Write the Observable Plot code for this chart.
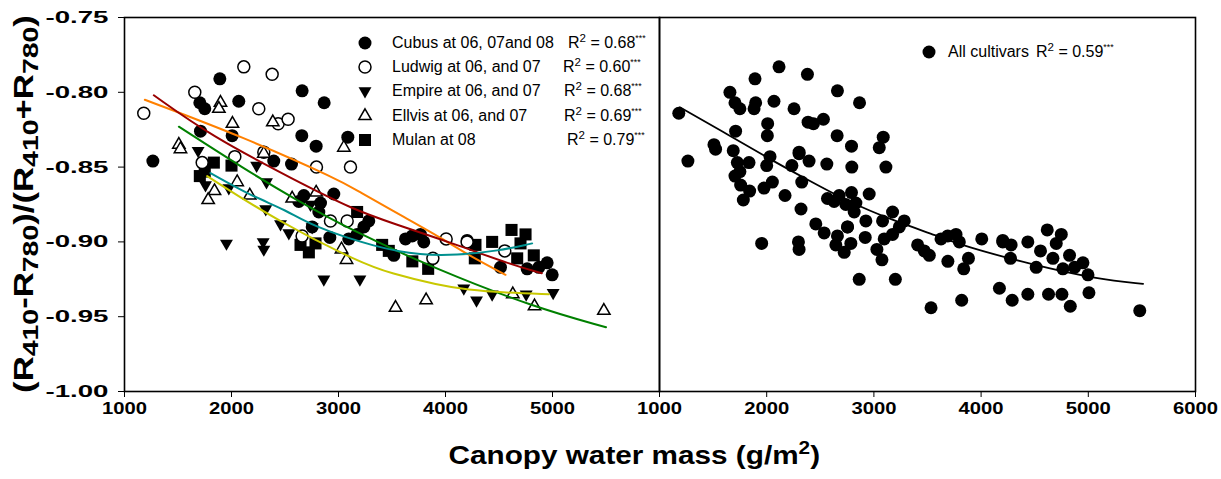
<!DOCTYPE html>
<html><head><meta charset="utf-8">
<script src="https://cdn.jsdelivr.net/npm/d3@7"></script>
<script src="https://cdn.jsdelivr.net/npm/@observablehq/plot@0.6"></script>
<style>
body{margin:0;background:#fff;}
#wrap{position:relative;width:1221px;height:479px;overflow:hidden;font-family:"Liberation Sans",Arial,sans-serif;color:#000;}
#wrap svg.panel{position:absolute;top:0;}
.lbl{position:absolute;white-space:nowrap;line-height:1;}
.leg{font-size:16px;}
.sup{font-size:72%;vertical-align:0.5em;}
.stars{font-size:55%;vertical-align:0.8em;}
.sub{font-size:82%;position:relative;top:0.22em;}
</style></head><body><div id="wrap"></div>
<script>
// ---------- data ----------
const xTicksLeft = [1000, 2000, 3000, 4000, 5000];
const xTicksRight = [1000, 2000, 3000, 4000, 5000, 6000];
const yTicks = [-1.00, -0.95, -0.90, -0.85, -0.80, -0.75];

const legendLabels = ["Cubus at 06, 07and 08", "Ludwig at 06, and 07", "Empire at 06, and 07", "Ellvis at 06, and 07", "Mulan at 08"];
const r2Values = ["0.68", "0.60", "0.68", "0.69", "0.79"];
const allLabel = "All cultivars";
const allR2 = "0.59";

const cubus = [[1265,-0.846],[1704,-0.807],[1750,-0.811],[1710,-0.826],[1891,-0.791],[2068,-0.806],[2006,-0.829],[2395,-0.846],[2561,-0.848],[2660,-0.799],[2866,-0.807],[2657,-0.829],[2791,-0.836],[3087,-0.830],[2629,-0.873],[2676,-0.869],[2956,-0.868],[2832,-0.874],[2816,-0.880],[2754,-0.890],[2919,-0.897],[3096,-0.898],[3174,-0.895],[3237,-0.890],[3283,-0.886],[3517,-0.909],[3626,-0.898],[3689,-0.896],[3766,-0.895],[3797,-0.900],[4202,-0.899],[4514,-0.917],[4763,-0.918],[4872,-0.917],[4950,-0.914],[4997,-0.922]];
const ludwig = [[1180,-0.814],[1657,-0.800],[2115,-0.783],[2380,-0.788],[2255,-0.811],[2436,-0.821],[2529,-0.818],[1726,-0.847],[2031,-0.843],[2302,-0.840],[2794,-0.850],[3112,-0.850],[2925,-0.886],[3081,-0.886],[2660,-0.896],[4006,-0.898],[3882,-0.911],[4554,-0.906],[4202,-0.900]];
const empire = [[1688,-0.839],[1757,-0.862],[1975,-0.864],[2235,-0.849],[2327,-0.860],[2320,-0.878],[2458,-0.888],[2536,-0.894],[1953,-0.901],[2296,-0.900],[2302,-0.905],[2738,-0.875],[2754,-0.890],[2863,-0.925],[3200,-0.925],[4171,-0.931],[4290,-0.939],[4436,-0.935],[4754,-0.935],[5006,-0.934]];
const ellvis = [[1897,-0.807],[1882,-0.811],[2009,-0.821],[2386,-0.820],[1508,-0.835],[1523,-0.838],[2302,-0.841],[3050,-0.837],[2053,-0.860],[1841,-0.866],[1782,-0.872],[2171,-0.869],[2567,-0.871],[2791,-0.867],[3028,-0.905],[3075,-0.912],[3533,-0.944],[3819,-0.939],[4629,-0.935],[4832,-0.943],[5480,-0.946]];
const mulan = [[1835,-0.847],[2000,-0.849],[1704,-0.856],[1750,-0.853],[2645,-0.902],[2723,-0.907],[2785,-0.901],[3174,-0.880],[3408,-0.902],[3470,-0.906],[3690,-0.913],[3838,-0.918],[4280,-0.902],[4274,-0.911],[4436,-0.900],[4617,-0.892],[4748,-0.895],[4701,-0.901],[4670,-0.911],[4825,-0.909]];

// fitted curves
const fitCubus  = [[1274,-0.802],[1804,-0.829],[2598,-0.859],[3159,-0.879],[3486,-0.887],[4109,-0.902],[4607,-0.915],[4900,-0.921]];
const fitLudwig = [[1190,-0.805],[2115,-0.830],[3019,-0.859],[3159,-0.865],[3626,-0.884],[4000,-0.899],[4218,-0.909],[4561,-0.922]];
const fitEmpire = [[1773,-0.856],[2427,-0.886],[3206,-0.914],[3486,-0.921],[3938,-0.929],[4202,-0.932],[4561,-0.934],[4966,-0.935]];
const fitEllvis = [[1508,-0.823],[2115,-0.851],[2582,-0.871],[3143,-0.893],[3907,-0.918],[4841,-0.944],[5500,-0.957]];
const fitMulan  = [[1804,-0.854],[2178,-0.869],[2520,-0.879],[2738,-0.889],[3361,-0.904],[3781,-0.909],[4093,-0.909],[4500,-0.906],[4810,-0.901]];
const fitAll    = [[1190,-0.810],[1633,-0.828],[2037,-0.845],[2318,-0.856],[2754,-0.873],[3190,-0.886],[3595,-0.896],[3847,-0.903],[4467,-0.915],[5090,-0.925],[5511,-0.928]];

// ---------- helpers ----------
const rows = a => a.map(([x, y]) => ({x, y}));
const allPoints = [...cubus, ...ludwig, ...empire, ...ellvis, ...mulan];

const triangleDown = {
  draw(ctx, size) {
    const y = -Math.sqrt(size / (Math.sqrt(3) * 3));
    ctx.moveTo(0, -2 * y);
    ctx.lineTo(-Math.sqrt(3) * y, y);
    ctx.lineTo(Math.sqrt(3) * y, y);
    ctx.closePath();
  }
};

const fitColors = {cubus: "#990000", ludwig: "#ff8000", empire: "#c8c800", ellvis: "#008000", mulan: "#00908f"};

const baseStyle = {fontFamily: '"Liberation Sans", Arial, sans-serif', fontSize: "17px", fontWeight: "bold", color: "#000", background: "transparent", overflow: "visible"};
const yFmt = d => d.toFixed(2);
const xFmt = d => String(d);

const wrap = document.getElementById("wrap");

const left = Plot.plot({
  width: 664, height: 479,
  marginLeft: 124, marginRight: 5, marginTop: 17, marginBottom: 88,
  x: {domain: [1000, 6000], ticks: xTicksLeft, tickFormat: xFmt, tickSize: 6, tickPadding: 4, label: null},
  y: {domain: [-1.0, -0.75], ticks: yTicks, tickFormat: yFmt, tickSize: 6, tickPadding: 10, label: null},
  style: baseStyle,
  marks: [
    Plot.dot(rows(cubus), {x: "x", y: "y", symbol: "circle", r: 6.5, fill: "black"}),
    Plot.dot(rows(mulan), {x: "x", y: "y", symbol: "square", r: 6.8, fill: "black"}),
    Plot.dot(rows(empire), {x: "x", y: "y", symbol: triangleDown, r: 4.8, fill: "black"}),
    Plot.dot(rows(ludwig), {x: "x", y: "y", symbol: "circle", r: 6, fill: "white", stroke: "black", strokeWidth: 1.5}),
    Plot.dot(rows(ellvis), {x: "x", y: "y", symbol: "triangle", r: 4.6, fill: "white", stroke: "black", strokeWidth: 1.5}),
    Plot.line(rows(fitLudwig), {x: "x", y: "y", stroke: fitColors.ludwig, strokeWidth: 2, curve: "basis"}),
    Plot.line(rows(fitCubus), {x: "x", y: "y", stroke: fitColors.cubus, strokeWidth: 2, curve: "basis"}),
    Plot.line(rows(fitEllvis), {x: "x", y: "y", stroke: fitColors.ellvis, strokeWidth: 2, curve: "basis"}),
    Plot.line(rows(fitMulan), {x: "x", y: "y", stroke: fitColors.mulan, strokeWidth: 2, curve: "basis"}),
    Plot.line(rows(fitEmpire), {x: "x", y: "y", stroke: fitColors.empire, strokeWidth: 2, curve: "basis"}),
    Plot.frame({stroke: "black", strokeWidth: 1.6})
  ]
});
left.classList.add("panel");
left.style.left = "0px";
wrap.appendChild(left);

const right = Plot.plot({
  width: 566, height: 479,
  marginLeft: 4, marginRight: 26, marginTop: 17, marginBottom: 88,
  x: {domain: [1000, 6000], ticks: xTicksRight, tickFormat: xFmt, tickSize: 6, tickPadding: 4, label: null},
  y: {domain: [-1.0, -0.75], axis: null},
  style: baseStyle,
  marks: [
    Plot.dot(rows(allPoints), {x: "x", y: "y", symbol: "circle", r: 6.5, fill: "black"}),
    Plot.line(rows(fitAll), {x: "x", y: "y", stroke: "black", strokeWidth: 1.8, curve: "basis"}),
    Plot.frame({stroke: "black", strokeWidth: 1.6})
  ]
});
right.classList.add("panel");
right.style.left = "655px";
wrap.appendChild(right);

// widen the tick labels like the reference: horizontal scale about each label's anchor
for (const svg of [left, right]) {
  svg.querySelectorAll("text").forEach(t => {
    const s = t.textContent;
    const isY = s.includes(".");
    const target = isY ? 63 : 45;
    const bb = t.getBBox();
    if (!bb.width) return;
    const k = target / bb.width;
    const ax = isY ? bb.x + bb.width : bb.x + bb.width / 2;
    const tr = t.getAttribute("transform") || "";
    t.setAttribute("transform", `${tr} translate(${ax},0) scale(${k},1) translate(${-ax},0)`);
  });
}

// ---------- html texts ----------
function addLabel(html, cls, x, y, opts = {}) {
  const el = document.createElement("div");
  el.className = "lbl " + (cls || "");
  el.innerHTML = html;
  if (opts.style) Object.assign(el.style, opts.style);
  wrap.appendChild(el);
  const w = el.offsetWidth, h = el.offsetHeight;
  const sx = opts.width ? opts.width / w : 1;
  if (opts.rotate) {
    el.style.left = (x - w / 2) + "px";
    el.style.top = (y - h / 2) + "px";
    el.style.transformOrigin = "center center";
    el.style.transform = `rotate(-90deg) scaleX(${sx})`;
  } else {
    const ax = opts.anchor === "middle" ? w / 2 : 0;
    el.style.left = (x - ax) + "px";
    el.style.top = (y - h / 2) + "px";
    el.style.transformOrigin = opts.anchor === "middle" ? "center center" : "left center";
    el.style.transform = `scaleX(${sx})`;
  }
  return el;
}

function addMarker(symbol, r, fill, stroke, x, y) {
  const ns = "http://www.w3.org/2000/svg";
  const s = document.createElementNS(ns, "svg");
  s.setAttribute("width", 24); s.setAttribute("height", 24);
  s.style.position = "absolute";
  s.style.left = (x - 12) + "px"; s.style.top = (y - 12) + "px";
  s.style.overflow = "visible";
  const p = document.createElementNS(ns, "path");
  p.setAttribute("d", d3.symbol(symbol, Math.PI * r * r)());
  p.setAttribute("transform", "translate(12,12)");
  p.setAttribute("fill", fill);
  if (stroke) { p.setAttribute("stroke", stroke); p.setAttribute("stroke-width", 1.5); }
  s.appendChild(p);
  wrap.appendChild(s);
}

// legend (left panel)
const legRowY = [43, 67, 91, 116, 140];
const legR2X = [568, 563, 564, 564, 567];
const legSymbols = [
  [d3.symbolCircle, 6.5, "black", null],
  [d3.symbolCircle, 6, "white", "black"],
  [triangleDown, 4.8, "black", null],
  [d3.symbolTriangle, 4.6, "white", "black"],
  [d3.symbolSquare, 6.8, "black", null]
];
legendLabels.forEach((lab, i) => {
  const [sym, r, f, st] = legSymbols[i];
  addMarker(sym, r, f, st, 365, legRowY[i]);
  addLabel(lab, "leg", 392, legRowY[i]);
  addLabel(`R<span class="sup">2</span> = ${r2Values[i]}<span class="stars">***</span>`, "leg", legR2X[i], legRowY[i] - 1);
});

// legend (right panel)
addMarker(d3.symbolCircle, 6.5, "black", null, 929, 52);
addLabel(allLabel, "leg", 948, 52);
addLabel(`R<span class="sup">2</span> = ${allR2}<span class="stars">***</span>`, "leg", 1036, 51);

// axis titles
addLabel('Canopy water mass (g/m<span class="sup" style="font-size:70%;vertical-align:0.55em">2</span>)', "", 634, 454,
  {anchor: "middle", width: 372, style: {fontSize: "25px", fontWeight: "bold"}});
addLabel('(R<span class="sub">410</span>-R<span class="sub">780</span>)/(R<span class="sub">410</span>+R<span class="sub">780</span>)', "", 24, 204,
  {rotate: true, width: 378, style: {fontSize: "28px", fontWeight: "bold"}});
</script>
</body></html>
